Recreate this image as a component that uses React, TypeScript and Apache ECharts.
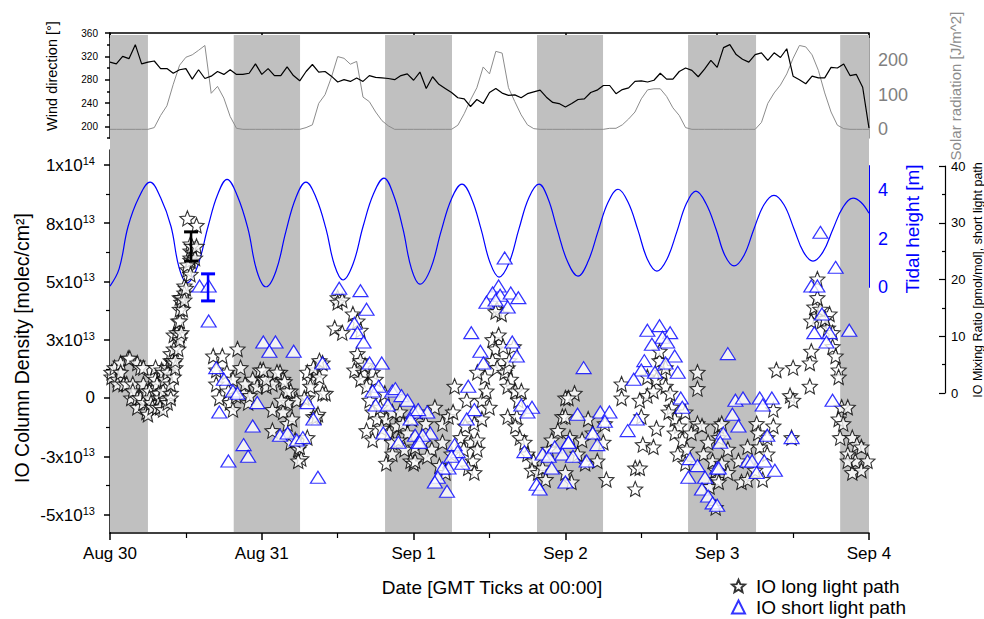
import React, { useEffect, useRef } from 'react';
import * as echarts from 'echarts';

const FONT = '"Liberation Sans", Arial, Helvetica, sans-serif';

// x values are days since Aug 30 00:00 GMT
const dateLabels = ['Aug 30', 'Aug 31', 'Sep 1', 'Sep 2', 'Sep 3', 'Sep 4'];
const nightStart = [0, 0.815, 1.812, 2.813, 3.808, 4.81];
const nightEnd = [0.25, 1.252, 2.253, 3.248, 4.256, 5];

// hourly wind direction [deg], from Aug 30 00:00
const windDir = [
  310, 307, 320, 316, 340, 307, 310, 312, 299, 299,
  291, 297, 299, 281, 297, 282, 286, 294, 289, 297,
  289, 289, 291, 307, 289, 299, 287, 287, 302, 287,
  278, 294, 306, 293, 294, 286, 276, 280, 277, 283,
  277, 287, 284, 283, 282, 280, 287, 290, 279, 293,
  265, 285, 272, 265, 258, 249, 247, 234, 246, 239,
  258, 265, 257, 253, 254, 249, 256, 259, 262, 250,
  241, 239, 233, 239, 246, 247, 258, 262, 270, 270,
  256, 263, 266, 277, 278, 276, 279, 291, 281, 281,
  294, 300, 296, 285, 298, 313, 301, 335, 340, 323,
  315, 310, 323, 326, 313, 326, 318, 333, 286, 280,
  273, 286, 283, 283, 301, 300, 307, 287, 289, 267,
  197,
];

// hourly solar radiation [J/m^2]
const solarRad = [
  0, 0, 0, 0, 0, 0, 0, 5, 40, 68,
  130, 185, 208, 215, 228, 242, 104, 124, 90, 37,
  3, 0, 0, 0, 0, 0, 0, 0, 0, 0,
  0, 5, 13, 75, 100, 150, 210, 205, 188, 196,
  93, 80, 50, 25, 10, 0, 0, 0, 0, 0,
  0, 0, 0, 0, 0, 12, 45, 85, 120, 180,
  160, 225, 220, 120, 80, 42, 13, 2, 0, 0,
  0, 0, 0, 0, 0, 0, 0, 0, 0, 3,
  3, 13, 30, 50, 88, 114, 117, 117, 95, 62,
  40, 5, 0, 0, 0, 0, 0, 0, 0, 0,
  0, 0, 0, 20, 75, 105, 128, 160, 205, 242,
  238, 215, 170, 105, 50, 12, 2, 0, 0, 0,
  0,
];

// tidal height [m]
const tideDay = [
  0, 0.06, 0.119, 0.19, 0.264, 0.333, 0.402, 0.455, 0.507, 0.576, 0.646, 0.708, 0.771, 0.84, 0.909, 0.968,
  1.028, 1.093, 1.159, 1.225, 1.291, 1.357, 1.423, 1.479, 1.535, 1.601, 1.667, 1.736, 1.805, 1.868, 1.93, 1.986,
  2.042, 2.112, 2.181, 2.25, 2.319, 2.382, 2.444, 2.504, 2.563, 2.629, 2.694, 2.76, 2.826, 2.886, 2.945, 3.014,
  3.083, 3.149, 3.215, 3.281, 3.347, 3.413, 3.478, 3.54, 3.603, 3.669, 3.735, 3.797, 3.86, 3.926, 3.992, 4.051,
  4.111, 4.176, 4.242, 4.308, 4.374, 4.44, 4.506, 4.568, 4.631, 4.697, 4.763, 4.829, 4.895, 4.947, 5.0,
];
const tideHeight = [
  0.04, 0.75, 2.5, 3.7, 4.33, 3.7, 2.5, 0.8, 0.17, 0.85, 2.5, 3.8, 4.45, 3.75, 2.4, 0.65,
  0.0, 0.65, 2.3, 3.7, 4.33, 3.7, 2.4, 0.9, 0.29, 0.95, 2.5, 3.85, 4.5, 3.8, 2.4, 0.75,
  0.12, 0.75, 2.3, 3.65, 4.25, 3.65, 2.4, 1.0, 0.41, 1.0, 2.4, 3.7, 4.25, 3.65, 2.4, 1.05,
  0.45, 1.05, 2.3, 3.5, 4.04, 3.5, 2.35, 1.15, 0.66, 1.15, 2.3, 3.45, 3.96, 3.45, 2.4, 1.3,
  0.87, 1.3, 2.4, 3.4, 3.79, 3.4, 2.4, 1.45, 1.07, 1.45, 2.4, 3.3, 3.67, 3.5, 3.05,
];

// IO column density, long light path [day, 1e13 molec/cm2]
const ioLong = [
  [0.01, 0.9], [0.01, 1.1], [0.03, 1.3], [0.05, 0.8], [0.05, 0.6], [0.07, 1.5], [0.07, 1.1], [0.09, 0.6], [0.11, 0.6], [0.12, 1.7],
  [0.13, 1.7], [0.14, 0.0], [0.15, 0.6], [0.15, 0.3], [0.18, 0.0], [0.18, 1.5], [0.18, -0.4], [0.2, 1.3], [0.2, 0.0], [0.22, 1.3],
  [0.22, 0.6], [0.22, -0.2], [0.24, -0.6], [0.24, 0.3], [0.25, -0.7], [0.26, 0.3], [0.26, 0.0], [0.27, -0.2], [0.28, -0.4], [0.28, 0.9],
  [0.3, 0.8], [0.3, 1.3], [0.31, 0.6], [0.31, -0.4], [0.32, 0.2], [0.33, 0.0], [0.33, -0.4], [0.34, 1.2], [0.35, 1.1], [0.35, 0.3],
  [0.35, -0.5], [0.36, 0.8], [0.37, -0.1], [0.38, -0.2], [0.38, 1.3], [0.38, 1.1], [0.4, 1.6], [0.4, 0.2], [0.4, 0.0], [0.4, 1.9],
  [0.4, 0.6], [0.41, 1.6], [0.42, 2.7], [0.42, 2.1], [0.42, 1.5], [0.42, 0.9], [0.43, 1.3], [0.43, 1.6], [0.44, 2.8], [0.45, 3.3],
  [0.45, 2.1], [0.46, 4.3], [0.46, 3.8], [0.46, 3.3], [0.46, 2.7], [0.46, 2.5], [0.47, 4.1], [0.47, 2.8], [0.47, 4.3], [0.48, 3.8],
  [0.49, 4.8], [0.49, 4.5], [0.49, 4.2], [0.5, 4.7], [0.51, 5.5], [0.53, 6.3], [0.53, 6.0], [0.53, 6.6], [0.53, 5.9], [0.54, 6.5],
  [0.56, 6.0], [0.57, 6.5], [0.51, 7.7], [0.57, 7.4], [0.51, 5.7], [0.53, 5.3],
  [0.68, 1.8], [0.74, 1.8], [0.84, 2.1], [0.7, 1.2], [0.77, 1.1], [0.81, 0.8], [0.86, 1.3], [0.7, 0.6], [0.72, 0.0], [0.79, -0.2],
  [0.81, -0.5], [0.88, 0.2], [0.91, -0.2], [0.94, 0.8], [0.97, 0.5], [0.99, 1.2], [1.01, 0.8], [1.03, 0.5], [1.07, 0.6], [1.12, 1.1],
  [1.14, 0.8], [1.19, 0.3], [1.23, -0.1], [1.17, -0.2], [1.14, -0.6], [1.07, -0.5], [1.07, -1.4], [1.17, -1.1], [1.2, -0.9], [1.19, -1.9],
  [1.24, -2.2], [1.26, -2.6], [1.25, -2.1], [1.3, -1.7], [1.34, -0.8], [1.3, 0.0], [1.32, 0.8], [1.36, 1.2], [1.4, 1.5], [1.42, 0.2],
  [1.37, -0.7], [1.3, 1.1], [1.34, 1.3], [1.38, 1.6], [1.32, 0.5], [1.38, 0.9], [1.4, 0.2], [1.28, 0.0], [1.36, -0.8], [1.22, -1.8],
  [1.17, 0.3], [1.13, -0.1], [1.15, 0.7], [1.03, 0.8], [1.01, 1.2], [1.1, 1.1], [1.24, -2.7], [0.92, 0.1], [0.78, 0.3], [0.83, 0.1], [0.89, 0.6],
  [1.5, 4.3], [1.5, 4.1], [1.53, 4.2], [1.48, 3.0], [1.53, 2.8], [1.6, 3.6], [1.63, 3.3], [1.65, 2.9], [1.63, 1.9], [1.65, 1.6],
  [1.61, 1.2], [1.67, 1.1], [1.65, 0.8], [1.69, 0.5], [1.73, 1.1], [1.71, -0.1], [1.73, -0.6], [1.76, -0.9], [1.69, -1.4], [1.73, -1.8],
  [1.78, -0.4], [1.81, 0.2], [1.82, -0.9], [1.86, -0.6], [1.84, -1.5], [1.86, -1.9], [1.82, -2.8], [1.86, -2.4], [1.89, -1.2], [1.91, -0.6],
  [1.93, -1.1], [1.96, -1.5], [1.99, -0.9], [1.98, -2.7], [2.0, -2.8], [2.01, -2.1], [1.68, 1.4], [1.75, 0.8], [1.79, -1.3], [1.9, -1.8], [1.94, -2.2],
  [2.14, -0.4], [2.03, -0.6], [2.08, -1.1], [2.19, -1.1], [2.23, -0.8], [2.06, -1.9], [2.12, -2.2], [2.19, -1.9], [2.25, -2.4], [2.17, -2.9],
  [2.01, -2.7], [2.09, -2.5], [2.21, -3.2], [2.27, 0.5], [2.35, -0.1], [2.26, -0.6], [2.34, -1.2], [2.4, -1.1], [2.31, -1.7], [2.38, -1.9],
  [2.42, -1.8], [2.33, -2.2], [2.39, -2.7], [2.36, -3.0], [2.4, -3.2], [2.42, -2.2], [2.45, -0.9], [2.45, -0.1], [2.48, 0.3], [2.5, -0.4],
  [2.47, 0.9], [2.42, 1.1], [2.52, 2.5], [2.56, 2.7], [2.54, 2.1], [2.59, 2.2], [2.52, 1.6], [2.55, 1.3], [2.6, 1.1], [2.62, 1.3],
  [2.64, 0.8], [2.62, 0.5], [2.67, 0.3], [2.69, -0.1], [2.71, 0.3], [2.62, -0.8], [2.68, -0.8], [2.67, -1.2], [2.7, -1.7], [2.73, -1.9],
  [2.75, -2.4], [2.79, -2.7], [2.78, -3.1], [2.82, -3.2], [2.85, -3.0], [2.87, -3.5], [2.89, -2.2], [2.91, -1.8], [2.95, -1.4], [2.98, -0.8],
  [3.0, 0.0], [2.55, 3.8], [2.58, 3.6], [2.54, 3.7], [2.66, 2.2], [2.63, 1.6],
  [3.06, 0.2], [3.02, 0.0], [3.0, -0.8], [3.15, -0.9], [3.26, -1.1], [3.03, -1.7], [3.11, -1.8], [3.18, -1.5], [3.25, -1.9], [3.21, -2.7],
  [3.13, -2.8], [3.08, -2.4], [3.27, -3.5], [3.04, -3.6], [3.0, -3.2], [3.37, 0.6], [3.37, 0.0], [3.46, -3.0], [3.49, -3.0], [3.46, -3.9],
  [3.51, -2.0], [3.58, -2.1], [3.6, -1.3], [3.5, -0.8], [3.49, -0.1], [3.54, 0.1], [3.58, 0.3], [3.54, 0.9], [3.6, 0.8], [3.64, 1.1],
  [3.66, 1.3], [3.62, 1.6], [3.66, 0.5], [3.69, 0.2], [3.7, -0.4], [3.72, -0.9], [3.75, -1.2], [3.72, -1.5], [3.77, -1.8], [3.74, -2.4],
  [3.8, -2.2], [3.83, -1.5], [3.87, -1.1], [3.87, 1.1], [3.87, 0.4], [3.9, -1.2], [3.94, -1.9], [3.91, -2.4], [3.97, -2.7], [3.99, -3.1],
  [4.0, -3.5], [3.95, -3.8], [3.99, -4.7], [4.01, -1.2], [3.79, -0.6], [3.68, -0.6], [3.79, -2.8], [3.62, 2.0],
  [4.03, -1.1], [4.01, -1.7], [4.07, -2.2], [4.03, -2.8], [4.01, -3.6], [4.07, -3.2], [4.16, -3.6], [4.2, -3.5], [4.14, -2.7], [4.2, -2.1],
  [4.26, -1.1], [4.27, -1.5], [4.28, -2.1], [4.25, -3.1], [4.3, -3.5], [4.33, -2.4], [4.37, -1.2], [4.37, -0.5], [4.33, -1.7], [4.39, 1.2],
  [4.5, 1.3], [4.48, 0.1], [4.5, -0.1], [4.49, -1.7], [4.61, 0.5], [4.61, 1.5], [4.62, 2.0], [4.64, 3.9], [4.66, 5.1], [4.66, 3.5],
  [4.69, 3.3], [4.74, 3.6], [4.73, 3.0], [4.76, 2.8], [4.76, 2.2], [4.78, 1.8], [4.8, 1.2], [4.8, 0.9], [4.82, -0.4], [4.86, -0.4],
  [4.8, -0.9], [4.83, -1.1], [4.81, -1.7], [4.89, -1.7], [4.92, -2.0], [4.95, -2.1], [4.86, -2.4], [4.91, -2.7], [4.89, -3.2], [4.95, -3.1],
  [4.99, -2.7], [4.86, -2.7], [4.62, 3.3], [4.71, 3.4], [4.68, 3.8], [4.66, 4.3],
];

// IO column density, short light path [day, 1e13 molec/cm2]
const ioShort = [
  [0.59, 4.8], [0.65, 4.8], [0.65, 3.3], [0.7, 1.3], [0.75, 0.8], [0.81, 0.3], [0.84, 0.2], [0.72, -0.6], [0.94, -1.2], [0.88, -2.0],
  [0.91, -2.5], [0.78, -2.7], [0.97, -0.2], [1.01, 2.4], [1.09, 2.4], [1.05, 2.0], [1.21, 2.0], [1.12, -1.6], [1.17, -1.5], [1.23, -1.8],
  [1.27, -1.7], [1.3, -0.2], [1.34, -0.9], [1.37, -3.4], [1.4, 1.5],
  [1.51, 4.7], [1.65, 4.6], [1.69, 3.8], [1.61, 3.2], [1.63, 2.8], [1.67, 2.4], [1.71, 1.5], [1.79, 1.5], [1.77, 0.5], [1.73, 0.3],
  [1.75, -0.3], [1.83, -0.3], [1.86, 0.3], [1.88, 0.4], [1.92, 0.1], [1.96, -0.1], [2.0, -0.6], [1.98, -0.9], [1.8, -1.5], [1.9, -1.9],
  [2.01, -1.6], [2.03, -1.9],
  [2.6, 6.0], [2.56, 4.8], [2.52, 4.5], [2.48, 4.1], [2.57, 4.4], [2.64, 4.5], [2.69, 4.3], [2.62, 3.9], [2.54, 4.2], [2.38, 2.8],
  [2.44, 2.0], [2.46, 1.5], [2.65, 2.4], [2.68, 1.8], [2.36, 0.5], [2.4, -0.5], [2.35, -0.9], [2.09, -0.6], [2.03, -0.5], [2.11, -1.5],
  [2.06, -1.6], [2.04, -1.9], [2.27, -2.0], [2.29, -2.3], [2.25, -2.5], [2.23, -3.0], [2.19, -3.0], [2.32, -2.8], [2.16, -3.4], [2.14, -3.6],
  [2.22, -4.0], [2.71, -0.3], [2.78, -0.4], [2.75, -0.6], [2.73, -2.3], [2.85, -2.4], [2.89, -2.5], [2.93, -2.1], [2.91, -3.0], [2.98, -2.4],
  [3.02, -1.9], [2.81, -3.7], [2.83, -3.9], [3.0, -3.6],
  [3.12, 1.3], [3.54, 2.9], [3.62, 3.1], [3.69, 2.8], [3.64, 2.6], [3.67, 2.4], [3.57, 2.3], [3.72, 1.8], [3.52, 1.6], [3.66, 1.5],
  [3.5, 1.2], [3.59, 1.1], [3.45, 0.8], [3.74, 1.1], [3.76, 0.0], [3.77, -0.4], [3.47, -0.9], [3.41, -1.4], [3.08, -0.7], [3.23, -0.6],
  [3.29, -0.6], [3.26, -1.0], [3.18, -1.5], [3.21, -2.0], [3.02, -1.9], [3.05, -2.5], [3.14, -2.7], [3.82, -2.6], [3.87, -2.9], [3.81, -3.4],
  [3.92, -3.4], [4.0, -3.0], [3.9, -3.9], [3.94, -4.2], [3.97, -4.5],
  [4.68, 7.1], [4.78, 5.6], [4.62, 4.8], [4.66, 4.8], [4.69, 3.6], [4.64, 2.8], [4.74, 2.8], [4.72, 2.4], [4.87, 2.9], [4.07, 1.9],
  [4.76, -0.1], [4.12, -0.1], [4.17, 0.0], [4.1, -0.7], [4.14, -1.2], [4.04, -1.5], [4.02, -1.9], [4.28, 0.0], [4.36, 0.0], [4.3, -0.3],
  [4.33, -1.6], [4.49, -1.7], [4.2, -2.7], [4.23, -2.7], [4.31, -2.7], [4.26, -3.2], [4.38, -3.1], [4.01, -3.0], [4.0, -4.6],
];

// error bars [day, upper, lower] in 1e13 molec/cm2
const errLong = [[0.534, 7.12, 5.87]];
const errShort = [[0.646, 5.32, 4.16]];

const yTickValues = [10, 7.5, 5, 2.5, 0, -2.5, -5];
const yTickMantissa = ['1', '8', '5', '3', '0', '-3', '-5'];
const yTickExponent = ['14', '13', '13', '13', '', '13', '13'];
const yMinorTicks = [8.75, 6.25, 3.75, 1.25, -1.25, -3.75];
const windTicks = [200, 240, 280, 320, 360];
const windMinor = [180, 220, 260, 300, 340];
const solarLabels = [0, 100, 200];
const solarTicks = [0, 50, 100, 150, 200, 250];
const tideLabels = [0, 2, 4];
const tideTicks = [0, 1, 2, 3, 4, 5];
const mixLabels = [0, 10, 20, 30, 40];
const mixMinor = [5, 15, 25, 35];

const STAR = 'path://M0,-10L2.65,-3.64L9.51,-3.09L4.28,1.39L5.88,8.09L0,4.5L-5.88,8.09L-4.28,1.39L-9.51,-3.09L-2.65,-3.64Z';

const L = 110;
const R = 115;

function errRender(color: string) {
  return (params: any, api: any) => {
    const x = api.value(0);
    const hi = api.coord([x, api.value(1)]);
    const lo = api.coord([x, api.value(2)]);
    const hw = 7;
    return {
      type: 'group',
      children: [
        { type: 'line', shape: { x1: hi[0], y1: hi[1], x2: lo[0], y2: lo[1] }, style: { stroke: color, lineWidth: 2.5 } },
        { type: 'line', shape: { x1: hi[0] - hw, y1: hi[1], x2: hi[0] + hw, y2: hi[1] }, style: { stroke: color, lineWidth: 3 } },
        { type: 'line', shape: { x1: lo[0] - hw, y1: lo[1], x2: lo[0] + hw, y2: lo[1] }, style: { stroke: color, lineWidth: 3 } },
      ],
    };
  };
}

function vText(text: string, x: number, y: number, size: number, color: string) {
  return {
    type: 'text',
    x,
    y,
    rotation: Math.PI / 2,
    style: {
      text,
      fill: color,
      font: `${size}px ${FONT}`,
      align: 'center',
      verticalAlign: 'middle',
      textAlign: 'center',
      textVerticalAlign: 'middle',
    },
  };
}

export default function App() {
  const ref = useRef<HTMLDivElement>(null);
  useEffect(() => {
    if (!ref.current) return;
    const chart = echarts.init(ref.current, null, { renderer: 'svg' });
    const option: any = {
      animation: false,
      backgroundColor: '#ffffff',
      textStyle: { fontFamily: FONT },
      grid: [
        { left: L, right: R, top: 33, height: 105 },
        { left: L, right: R, top: 150, height: 383 },
        { left: L, right: R, top: 35, height: 497 },
        { left: L, right: R, top: 166, height: 121 },
        { left: L, right: 39, top: 166, height: 227 },
      ],
      xAxis: [
        {
          gridIndex: 0, type: 'value', min: 0, max: 5, interval: 1, position: 'top',
          axisLine: { show: true, onZero: false, lineStyle: { color: '#000', width: 1.5 } },
          axisTick: { show: true, inside: true, length: 5, lineStyle: { color: '#000', width: 1.5 } },
          axisLabel: { show: false }, splitLine: { show: false },
        },
        {
          gridIndex: 1, type: 'value', min: 0, max: 5, interval: 1, position: 'bottom',
          axisLine: { show: true, onZero: false, lineStyle: { color: '#000', width: 1.5 } },
          axisTick: { show: true, length: 7, lineStyle: { color: '#000', width: 1.5 } },
          minorTick: { show: true, splitNumber: 2, length: 5, lineStyle: { color: '#000', width: 1.2 } },
          axisLabel: {
            show: true, margin: 12, fontSize: 17, fontFamily: FONT, color: '#000',
            showMinLabel: true, showMaxLabel: true,
            formatter: (v: number) => dateLabels[Math.round(v)] ?? '',
          },
          splitLine: { show: false },
        },
        { gridIndex: 2, type: 'value', min: 0, max: 5, show: false },
        { gridIndex: 3, type: 'value', min: 0, max: 5, show: false },
        { gridIndex: 4, type: 'value', min: 0, max: 1, show: false },
      ],
      yAxis: [
        {
          gridIndex: 0, type: 'value', min: 180, max: 360, position: 'left',
          axisLine: { show: true, onZero: false, lineStyle: { color: '#000', width: 1.5 } },
          axisTick: { show: true, length: 5, customValues: windTicks, lineStyle: { color: '#000', width: 1.5 } },
          axisLabel: { show: true, customValues: windTicks, fontSize: 10, margin: 12, color: '#000', fontFamily: FONT },
          splitLine: { show: false },
        },
        {
          gridIndex: 0, type: 'value', min: 180, max: 360, position: 'left',
          axisLine: { show: false, onZero: false },
          axisTick: { show: true, length: 3, customValues: windMinor, lineStyle: { color: '#000', width: 1.5 } },
          axisLabel: { show: false }, splitLine: { show: false },
        },
        {
          gridIndex: 0, type: 'value', min: -25, max: 278, position: 'right',
          axisLine: { show: true, onZero: false, lineStyle: { color: '#808080', width: 1.5 } },
          axisTick: { show: true, inside: true, length: 5, customValues: solarTicks, lineStyle: { color: '#808080', width: 1.5 } },
          axisLabel: { show: true, customValues: solarLabels, fontSize: 18, margin: 9, color: '#808080', fontFamily: FONT },
          splitLine: { show: false },
        },
        {
          gridIndex: 1, type: 'value', min: -5.79, max: 10.63, position: 'left',
          axisLine: { show: true, onZero: false, lineStyle: { color: '#000', width: 1.5 } },
          axisTick: { show: true, length: 6, customValues: yTickValues, lineStyle: { color: '#000', width: 1.5 } },
          axisLabel: {
            show: true, customValues: yTickValues, margin: 15, color: '#000',
            formatter: (v: number) => {
              const i = yTickValues.findIndex((t) => Math.abs(t - v) < 1e-6);
              if (i < 0) return '';
              if (!yTickExponent[i]) return `{b|${yTickMantissa[i]}}`;
              return `{b|${yTickMantissa[i]}x10}{s|${yTickExponent[i]}}`;
            },
            rich: {
              b: { fontSize: 17, fontFamily: FONT, color: '#000', verticalAlign: 'bottom' },
              s: { fontSize: 11, fontFamily: FONT, color: '#000', verticalAlign: 'bottom', padding: [0, 0, 8, 0] },
            },
          },
          splitLine: { show: false },
        },
        {
          gridIndex: 1, type: 'value', min: -5.79, max: 10.63, position: 'left',
          axisLine: { show: false, onZero: false },
          axisTick: { show: true, length: 4, customValues: yMinorTicks, lineStyle: { color: '#000', width: 1.2 } },
          axisLabel: { show: false }, splitLine: { show: false },
        },
        { gridIndex: 2, type: 'value', min: 0, max: 1, show: false },
        {
          gridIndex: 3, type: 'value', min: 0, max: 5, position: 'right',
          axisLine: { show: true, onZero: false, lineStyle: { color: '#0000ff', width: 2 } },
          axisTick: { show: true, inside: true, length: 8, customValues: tideTicks, lineStyle: { color: '#0000ff', width: 1.5 } },
          axisLabel: { show: true, customValues: tideLabels, fontSize: 18, margin: 9, color: '#0000ff', fontFamily: FONT },
          splitLine: { show: false },
        },
        {
          gridIndex: 4, type: 'value', min: 0, max: 40, position: 'right',
          axisLine: { show: true, onZero: false, lineStyle: { color: '#000', width: 1.2 } },
          axisTick: { show: true, inside: true, length: 6, customValues: mixLabels, lineStyle: { color: '#000', width: 1.2 } },
          axisLabel: { show: true, customValues: mixLabels, fontSize: 13, margin: 6, color: '#000', fontFamily: FONT },
          splitLine: { show: false },
        },
        {
          gridIndex: 4, type: 'value', min: 0, max: 40, position: 'right',
          axisLine: { show: false, onZero: false },
          axisTick: { show: true, inside: true, length: 3, customValues: mixMinor, lineStyle: { color: '#000', width: 1.2 } },
          axisLabel: { show: false }, splitLine: { show: false },
        },
      ],
      legend: {
        orient: 'vertical', left: 731, top: 576, height: 50, padding: 0, itemWidth: 13, itemHeight: 13, itemGap: 1,
        textStyle: { fontSize: 19, fontFamily: FONT, color: '#000', padding: [0, 0, 0, 6], lineHeight: 20 },
        data: ['IO long light path', 'IO short light path'],
      },
      graphic: [
        vText('Wind direction [°]', 52, 76, 14.5, '#000'),
        vText('Solar radiation [J/m^2]', 955, 86, 15, '#8c8c8c'),
        vText('IO Column Density [molec/cm²]', 22, 348, 19.5, '#000'),
        vText('Tidal height [m]', 912, 229, 19, '#0000ff'),
        vText('IO Mixing Ratio [pmol/mol], short light path', 978, 280, 12.5, '#000'),
        {
          type: 'text', x: 492, y: 587,
          style: { text: 'Date [GMT Ticks at 00:00]', fill: '#000', font: `19px ${FONT}`, align: 'center', verticalAlign: 'middle', textAlign: 'center', textVerticalAlign: 'middle' },
        },
      ],
      series: [
        {
          type: 'line', xAxisIndex: 2, yAxisIndex: 5, data: [[0, 0], [5, 0]], showSymbol: false, silent: true,
          lineStyle: { opacity: 0, width: 0 }, z: 0,
          markArea: {
            silent: true, itemStyle: { color: '#c0c0c0' },
            data: nightStart.map((s, i) => [{ xAxis: s, yAxis: 0 }, { xAxis: nightEnd[i], yAxis: 1 }]),
          },
        },
        {
          type: 'line', xAxisIndex: 0, yAxisIndex: 2, data: solarRad.map((v, i) => [i / 24, v]),
          symbol: 'none', lineStyle: { color: '#8c8c8c', width: 1 }, z: 2,
        },
        {
          type: 'line', xAxisIndex: 0, yAxisIndex: 0, data: windDir.map((v, i) => [i / 24, v]),
          symbol: 'none', lineStyle: { color: '#000', width: 1.2 }, z: 3,
        },
        {
          type: 'line', xAxisIndex: 3, yAxisIndex: 6, data: tideDay.map((d, i) => [d, tideHeight[i]]),
          symbol: 'none', smooth: 0.4, lineStyle: { color: '#0000ff', width: 1.2 }, z: 3,
        },
        {
          name: 'IO long light path', type: 'scatter', xAxisIndex: 1, yAxisIndex: 3, data: ioLong,
          symbol: STAR, symbolSize: 15,
          itemStyle: { color: '#ffffff', borderColor: '#000', borderWidth: 1.1 }, z: 4,
        },
        {
          name: 'IO short light path', type: 'scatter', xAxisIndex: 1, yAxisIndex: 3, data: ioShort,
          symbol: 'triangle', symbolSize: [15, 12],
          itemStyle: { color: '#ffffff', borderColor: '#0000ff', borderWidth: 1.2 }, z: 5,
        },
        { type: 'custom', xAxisIndex: 1, yAxisIndex: 3, data: errLong, renderItem: errRender('#000'), z: 6 },
        { type: 'custom', xAxisIndex: 1, yAxisIndex: 3, data: errShort, renderItem: errRender('#0000ff'), z: 6 },
        { type: 'line', xAxisIndex: 4, yAxisIndex: 7, data: [], showSymbol: false },
        { type: 'line', xAxisIndex: 4, yAxisIndex: 8, data: [], showSymbol: false },
      ],
    };
    chart.setOption(option);
    return () => chart.dispose();
  }, []);
  return <div ref={ref} style={{ position: 'absolute', left: 0, top: 0, width: 984, height: 619 }} />;
}
